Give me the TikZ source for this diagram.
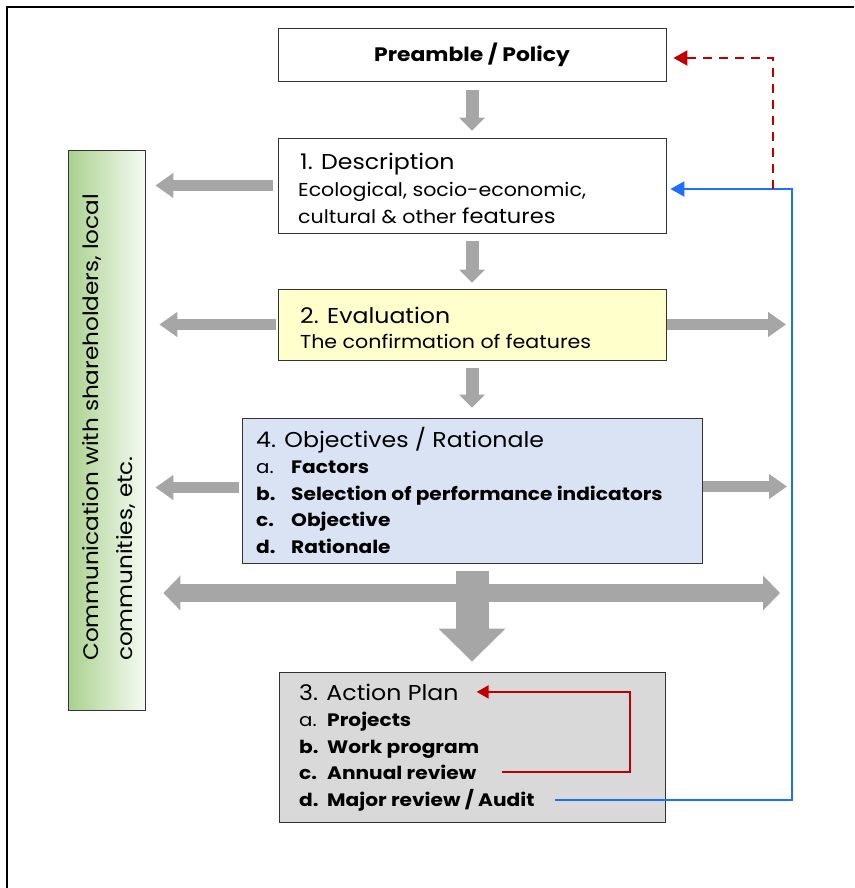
\documentclass[tikz,border=0pt]{standalone}
\usepackage{fontspec}
\setmainfont{Poppins}[FakeStretch=1.1, BoldFeatures={FakeStretch=1.12}]
\usetikzlibrary{arrows.meta}

\definecolor{paleyellow}{HTML}{FFFFCC}
\definecolor{paleblue}{HTML}{DAE3F3}
\definecolor{palegray}{HTML}{D9D9D9}
\definecolor{fatgray}{HTML}{A6A6A6}
\definecolor{loopred}{HTML}{C00000}
\definecolor{auditblue}{HTML}{1F6FFF}
\definecolor{leafgreen}{HTML}{A9D18E}
\definecolor{mistgreen}{HTML}{F5FAF2}

% list label with a fixed tab
\newcommand{\lbl}[2][35pt]{\makebox[#1][l]{#2}}

\tikzset{
  box/.style={draw=black!80, line width=0.8pt, inner sep=0pt},
  head/.style={anchor=base west, inner sep=0pt, font=\fontsize{21.5}{24}\selectfont},
  item/.style={anchor=base west, inner sep=0pt, font=\fontsize{18}{20}\selectfont},
  body/.style={anchor=base west, inner sep=0pt, font=\fontsize{18.7}{20}\selectfont},
  flow/.style={draw=fatgray, line width=13pt, -{Triangle[length=13pt,width=25pt]}},
  side/.style={draw=fatgray, line width=11pt, -{Triangle[length=18pt,width=24pt]}},
  both/.style={draw=fatgray, line width=18pt, {Triangle[length=17pt,width=34pt]}-{Triangle[length=17pt,width=34pt]}},
  bigdown/.style={draw=fatgray, line width=33pt, -{Triangle[length=33pt,width=65pt]}},
  annual/.style={draw=loopred, line width=2pt, -{Triangle[length=12pt,width=13pt]}},
  audit/.style={draw=auditblue, line width=2pt, -{Triangle[length=14pt,width=15pt]}},
  policy/.style={draw=loopred, line width=2pt, dash pattern=on 9pt off 7pt, -{Triangle[length=14pt,width=15pt]}}
}

\begin{document}
\begin{tikzpicture}[x=1pt,y=-1pt]
  \useasboundingbox (0,0) rectangle (854,888);
  \draw[line width=1.5pt] (7,888) |- (854,7);

  \coordinate (rail) at (792,0);
  \coordinate (dashx) at (773,0);
  \coordinate (loopx) at (630,0);
  \coordinate (mid) at (472,593);

  % boxes
  \node[box, minimum width=388pt, minimum height=53pt, font=\bfseries\fontsize{19.5}{20}\selectfont] (pre) at (472,54.5) {Preamble / Policy};
  \node[box, fill=white, minimum width=388pt, minimum height=95pt] (desc) at (472,185.5) {};
  \node[box, fill=paleyellow, minimum width=388pt, minimum height=71pt] (eval) at (472,324.5) {};
  \node[box, fill=paleblue, minimum width=460pt, minimum height=145pt] (obj) at (472,490.5) {};
  \node[box, fill=palegray, minimum width=386pt, minimum height=150pt] (plan) at (472,747) {};
  \node[box, left color=leafgreen, right color=mistgreen, minimum width=77pt, minimum height=560pt] (comm) at (106.5,430) {};
  \coordinate (feed) at ([yshift=-3.5pt]desc.east);
  \coordinate (pin) at ([yshift=-3.5pt]pre.east);

  % texts
  \node[head] (d0) at (300,169) {1. Description};
  \node[body] (d1) at (298,196) {Ecological, socio-economic,};
  \node[body] (d2) at (298,223) {cultural \& other {\fontsize{20.5}{20}\selectfont features}};
  \node[head] (e0) at (300,323) {2. Evaluation};
  \node[body] (e1) at (300,348) {The confirmation of features};

  \node[head] (o0) at (256,447) {4. Objectives / Rationale};
  \foreach \n/\y/\t in {1/473/{\lbl{a.}\textbf{Factors}}, 2/500/{\textbf{\lbl{b.}Selection of performance indicators}},
                        3/526/{\textbf{\lbl{c.}Objective}}, 4/553/{\textbf{\lbl{d.}Rationale}}}
    \node[item] (o\n) at (256,\y) {\t};

  \node[head] (p0) at (299,700) {3. Action Plan};
  \foreach \n/\y/\t in {1/726/{\lbl[28pt]{a.}\textbf{Projects}}, 2/753/{\textbf{\lbl[28pt]{b.}Work program}},
                        3/779/{\textbf{\lbl[28pt]{c.}Annual review}}, 4/806/{\textbf{\lbl[28pt]{d.}Major review / Audit}}}
    \node[item] (p\n) at (299,\y) {\t};

  \node[rotate=90, anchor=west, align=left, inner sep=0pt, font=\fontsize{21}{34}\selectfont] (commtext) at (109,661)
    {Communication with shareholders, local\\communities, etc.};

  % grey flow arrows
  \draw[flow, shorten <=9pt, shorten >=7pt] (pre) -- (desc);
  \draw[flow, shorten <=8pt, shorten >=6pt] (desc) -- (eval);
  \draw[flow, shorten <=8pt, shorten >=10pt] (eval) -- (obj);
  \draw[side, shorten <=5pt, shorten >=10pt] (desc) -- (desc -| comm.east);
  \draw[side, shorten <=2pt, shorten >=14pt] (eval) -- (eval -| comm.east);
  \draw[side, shorten <=3pt, shorten >=10pt] ([yshift=3pt]obj.west) -- ([yshift=3pt]obj.west -| comm.east);
  \draw[side, shorten <=1pt, shorten >=6pt] (eval) -- (eval -| rail);
  \draw[side, shorten <=1pt, shorten >=5pt] ([yshift=4pt]obj.east) -- ([yshift=4pt]obj.east -| rail);
  \draw[both, shorten <=18pt, shorten >=12pt] (comm.east |- mid) -- (mid -| rail);
  \draw[bigdown, shorten <=8pt, shorten >=10pt] (obj) -- (plan);

  % review loops
  \draw[annual, shorten <=26pt, shorten >=18pt] (p3.east) -| (loopx |- p0.east) -- (p0.east);
  \draw[audit, shorten <=20pt, shorten >=4pt] (p4.east) -| (rail |- feed) -- (feed);
  \draw[policy, shorten >=7pt] (dashx |- feed) |- (pin);
\end{tikzpicture}
\end{document}
